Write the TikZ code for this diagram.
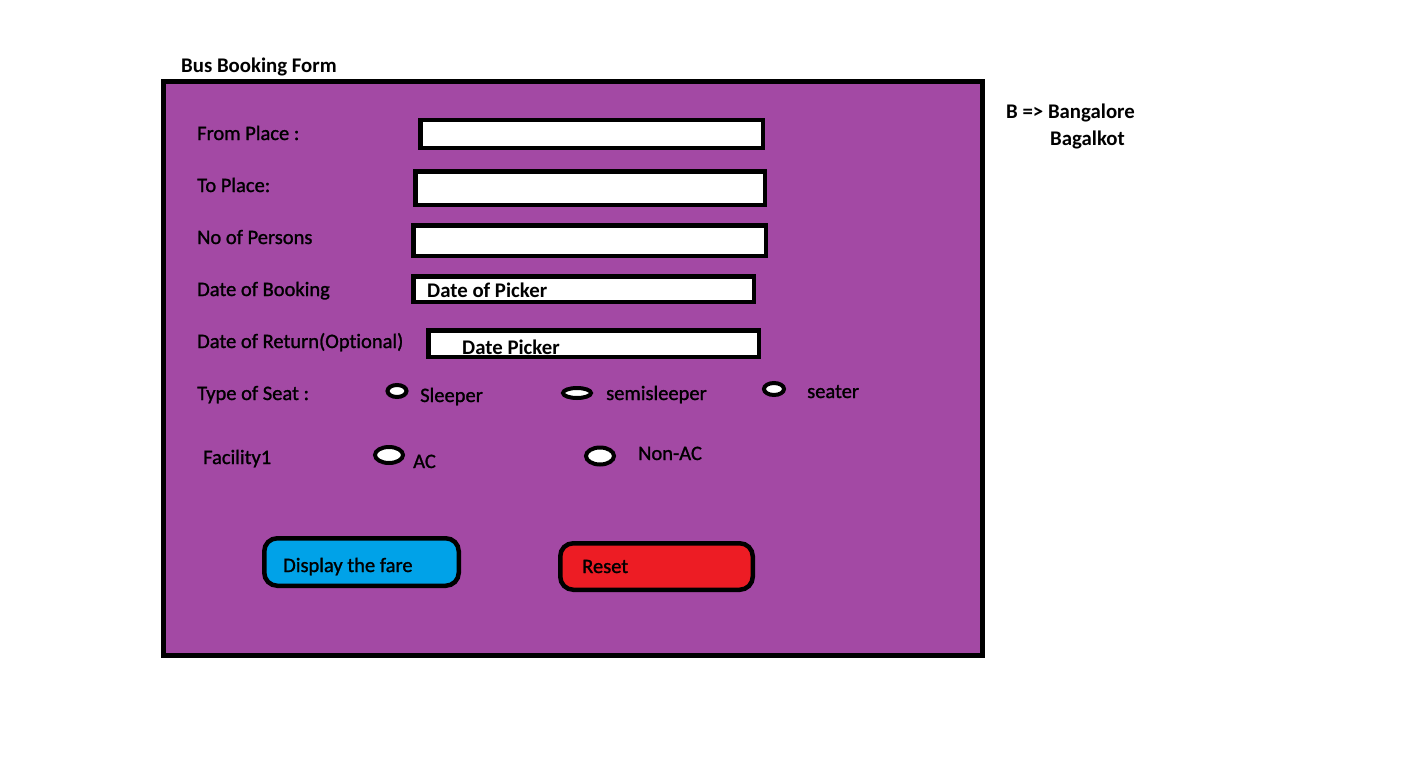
\documentclass[tikz,border=0pt]{standalone}
\usepackage{fontspec}
\setmainfont{Carlito}[Ligatures=NoCommon]
\newfontfamily\lblfont{Carlito}[Ligatures=NoCommon,FakeBold=1.2]
\definecolor{panelpurple}{HTML}{A349A4}
\definecolor{btnblue}{HTML}{00A2E8}
\definecolor{btnred}{HTML}{ED1C24}
\begin{document}
\begin{tikzpicture}[x=1pt,y=-1pt,
  lbl/.style={anchor=base west,inner sep=0pt,font=\lblfont\fontsize{20.5}{22}\selectfont},
  blbl/.style={anchor=base west,inner sep=0pt,font=\fontsize{20.8}{22}\selectfont\bfseries},
  field/.style={draw=black,fill=white,line width=4.5pt},
  radio/.style={draw=black,fill=white,line width=4pt},
  btn/.style={draw=black,line width=4.5pt,rounded corners=13pt}]
\useasboundingbox (0,0) rectangle (1412,765);
\fill[white] (0,0) rectangle (1412,765);
% title
\node[blbl] (title) at (181,73) {Bus Booking Form};
% panel
\draw[fill=panelpurple,line width=5pt] (163.5,81.5) rectangle (982.5,655.5);
\coordinate (panel) at (573,368);
% labels
\node[lbl] (l1) at (197,140) {From Place :};
\node[lbl] (l2) at (197,192) {To Place:};
\node[lbl] (l3) at (197,244) {No of Persons};
\node[lbl] (l4) at (197,296) {Date of Booking};
\node[lbl] (l5) at (197,348) {Date of Return(Optional)};
\node[lbl] (l6) at (197,400) {Type of Seat :};
\node[lbl] (l7) at (203,464) {Facility1};
% fields
\draw[field] (420.25,120.25) rectangle (762.75,147.75);
\draw[field] (415.25,171.25) rectangle (764.75,204.75);
\draw[field] (413.25,225.25) rectangle (765.75,255.75);
\draw[field] (413.25,276.25) rectangle (753.75,301.75);
\draw[field] (428.25,330.25) rectangle (758.75,356.75);
\node[blbl] (dp1) at (427,297) {Date of Picker};
\node[blbl] (dp2) at (462,354) {Date Picker};
% radios
\draw[radio] (397,391) ellipse (9.5pt and 6pt);
\node[lbl] (r1) at (420,402) {Sleeper};
\draw[radio] (577,393) ellipse (14pt and 5pt);
\node[lbl] (r2) at (606,400) {semisleeper};
\draw[radio] (774,389) ellipse (10pt and 6pt);
\node[lbl] (r3) at (807,398) {seater};
\draw[radio] (389,455) ellipse (14pt and 8pt);
\node[lbl] (r4) at (413,468) {AC};
\draw[radio] (600,456) ellipse (14pt and 8.5pt);
\node[lbl] (r5) at (638,460) {Non-AC};
% buttons
\draw[btn,fill=btnblue] (264.25,538.25) rectangle (458.75,585.75);
\node[lbl] (b1) at (283,572) {Display the fare};
\draw[btn,fill=btnred] (560.25,543.25) rectangle (752.75,589.75);
\node[lbl] (b2) at (582,573) {Reset};
% side note
\node[blbl] (n1) at (1006,119) {B => Bangalore};
\node[blbl] (n2) at (1050,145) {Bagalkot};
\end{tikzpicture}
\end{document}
